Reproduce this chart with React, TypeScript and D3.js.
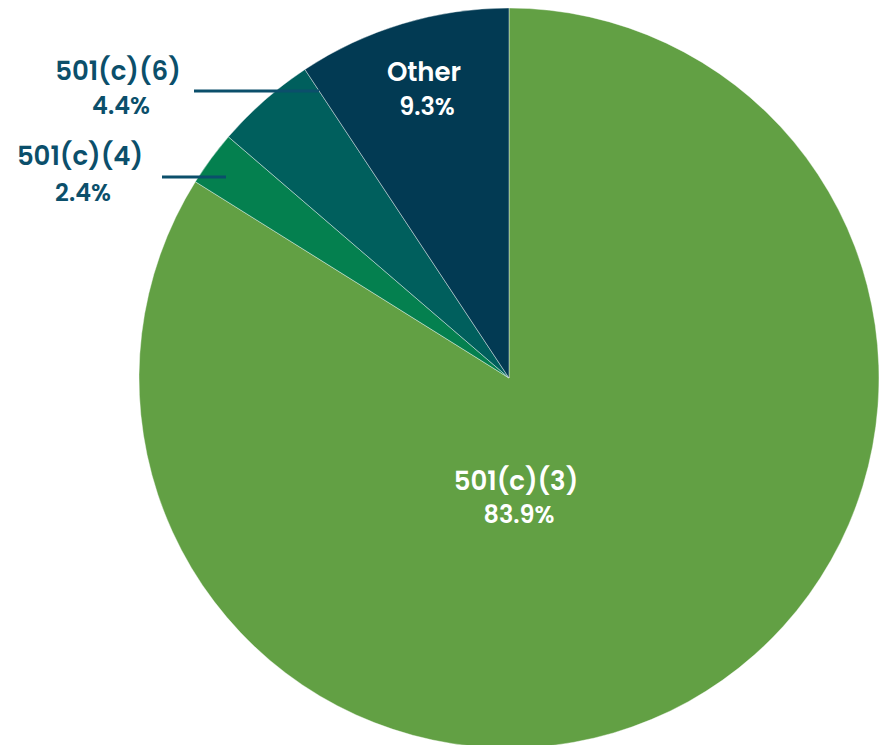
import React from "react";
import * as d3 from "d3";

const categories = ["501(c)(3)", "501(c)(4)", "501(c)(6)", "Other"];
const shares = [83.9, 2.4, 4.4, 9.3];
const colors = ["#62A044", "#04804F", "#005F5D", "#023A53"];

const W = 883;
const H = 745;
const cx = 509;
const cy = 378;
const radius = 370;

// label placement per slice (inside labels white, outside labels with leader line)
const labelLayout = [
  { x: 516, y: 481, py: 514, inside: true },
  { x: 80, y: 156, py: 192, inside: false, lineY: 177, lineFrom: 162, lineTo: 226 },
  { x: 118, y: 71, py: 105, inside: false, lineY: 91, lineFrom: 194, lineTo: 319 },
  { x: 424, y: 72, py: 106, inside: true },
];

const App: React.FC = () => {
  const data = categories.map((name, i) => ({ name, value: shares[i], color: colors[i] }));
  const pie = d3
    .pie<{ name: string; value: number; color: string }>()
    .value((d) => d.value)
    .sort(null);
  const arc = d3
    .arc<d3.PieArcDatum<{ name: string; value: number; color: string }>>()
    .innerRadius(0)
    .outerRadius(radius);
  const arcs = pie(data);
  const font = "Poppins, Inter, 'Noto Sans', sans-serif";

  return (
    <svg
      width={W}
      height={H}
      style={{ position: "absolute", left: 0, top: 0 }}
    >
      <g transform={`translate(${cx},${cy})`}>
        {arcs.map((a) => (
          <path
            key={a.data.name}
            d={arc(a) as string}
            fill={a.data.color}
            stroke="#ffffff"
            strokeOpacity={0.5}
            strokeWidth={0.8}
          />
        ))}
      </g>
      {arcs.map((a, i) => {
        const l = labelLayout[i];
        const fill = l.inside ? "#ffffff" : "#0B4F6B";
        return (
          <g key={a.data.name}>
            {!l.inside && (
              <line
                x1={l.lineFrom}
                x2={l.lineTo}
                y1={l.lineY}
                y2={l.lineY}
                stroke="#0B4F6B"
                strokeWidth={3}
              />
            )}
            <text
              x={l.x}
              y={l.y}
              textAnchor="middle"
              dominantBaseline="central"
              fontFamily={font}
              fontWeight={600}
              fontSize={26}
              fill={fill}
            >
              {a.data.name}
            </text>
            <text
              x={l.x + 3}
              y={l.py}
              textAnchor="middle"
              dominantBaseline="central"
              fontFamily={font}
              fontWeight={600}
              fontSize={24}
              fill={fill}
            >
              {`${a.data.value.toFixed(1)}%`}
            </text>
          </g>
        );
      })}
    </svg>
  );
};

export default App;
